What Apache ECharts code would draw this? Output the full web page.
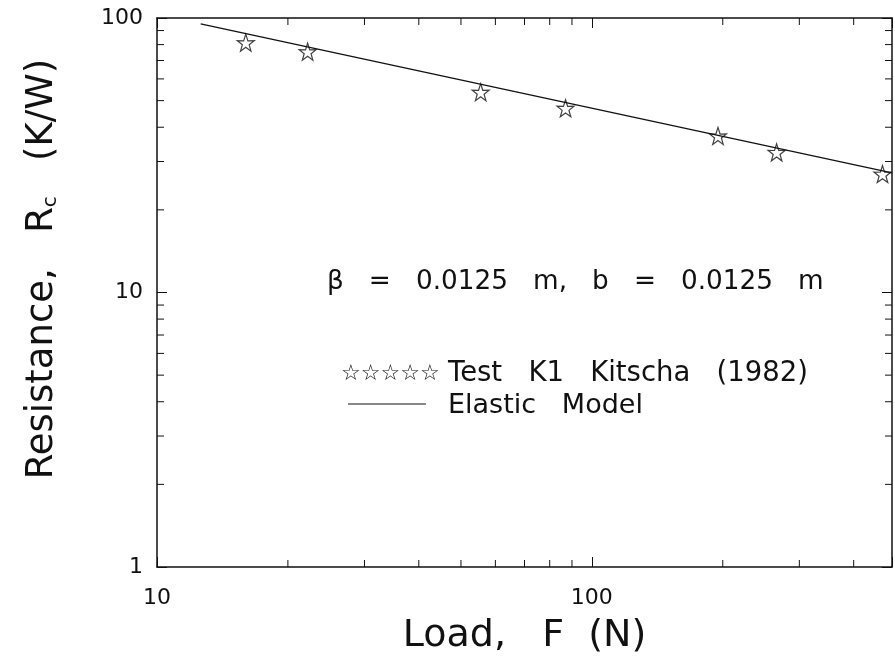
<!DOCTYPE html>
<html>
<head>
<meta charset="utf-8">
<script src="https://cdn.jsdelivr.net/npm/echarts@6/dist/echarts.min.js"></script>
<style>
	html, body { margin: 0; padding: 0; background: #fff; }
	#chart { width: 895px; height: 662px; }
</style>
</head>
<body>
<div id="chart"></div>
<script>
	'use strict'
	/*----data----*/
	var testLoad = [16.0, 22.2, 55.5, 87.0, 195, 266, 466];
	var testResistance = [81.3, 75.4, 53.7, 46.9, 37.2, 32.4, 27.0];
	var modelLoad = [12.6, 490];
	var modelResistance = [95.1, 27.3];
	var xMinorTicks = [20, 30, 40, 50, 60, 70, 80, 90, 200, 300, 400];
	var yMinorTicks = [2, 3, 4, 5, 6, 7, 8, 9, 20, 30, 40, 50, 60, 70, 80, 90];
	var xMajorLabels = [10, 100];
	var yMajorLabels = [1, 10, 100];

	var font = '"DejaVu Sans", sans-serif';
	var ink = '#111';
	var starPath = 'path://M50,0 L61.8,35.4 L97.6,34.5 L69.1,56.5 L79.4,90.5 L50,70 L20.6,90.5 L30.9,56.5 L2.4,34.5 L38.2,35.4 Z';

	function zip(a, b) {
		return a.map(function(v, i) { return [v, b[i]]; });
	}

	function majorOnly(list) {
		return function(value) {
			for (var i = 0; i < list.length; i++) {
				if (Math.abs(value - list[i]) < 1e-6 * list[i]) return String(list[i]);
			}
			return '';
		};
	}

	function xMinor(params, api) {
		var x = api.coord([api.value(0), 1])[0];
		var cs = params.coordSys;
		var st = { stroke: ink, lineWidth: 1 };
		return {
			type: 'group',
			children: [
				{ type: 'line', shape: { x1: x, y1: cs.y + cs.height, x2: x, y2: cs.y + cs.height - 7 }, style: st },
				{ type: 'line', shape: { x1: x, y1: cs.y, x2: x, y2: cs.y + 7 }, style: st }
			]
		};
	}

	function yMinor(params, api) {
		var y = api.coord([10, api.value(1)])[1];
		var cs = params.coordSys;
		var st = { stroke: ink, lineWidth: 1 };
		return {
			type: 'group',
			children: [
				{ type: 'line', shape: { x1: cs.x, y1: y, x2: cs.x + 7, y2: y }, style: st },
				{ type: 'line', shape: { x1: cs.x + cs.width, y1: y, x2: cs.x + cs.width - 7, y2: y }, style: st }
			]
		};
	}

	var axisLine = { show: true, lineStyle: { color: ink, width: 1.5 } };
	var axisTick = { show: true, inside: true, length: 10, lineStyle: { color: ink, width: 1 } };

	var chart = echarts.init(document.getElementById('chart'));
	var option = {
		animation: false,
		backgroundColor: '#fff',
		grid: {
			top: 18,
			right: 3,
			bottom: 95,
			left: 157
		},
		xAxis: [{
			type: 'log',
			logBase: 10,
			min: 10,
			max: 490,
			position: 'bottom',
			name: 'Load,   F  (N)',
			nameLocation: 'middle',
			nameGap: 50,
			nameTextStyle: { fontFamily: font, fontSize: 38, color: ink },
			axisLine: axisLine,
			axisTick: axisTick,
			splitLine: { show: false },
			axisLabel: {
				margin: 20,
				fontFamily: font,
				fontSize: 22,
				color: ink,
				formatter: majorOnly(xMajorLabels)
			}
		}, {
			type: 'log',
			logBase: 10,
			min: 10,
			max: 490,
			position: 'top',
			axisLine: axisLine,
			axisTick: axisTick,
			splitLine: { show: false },
			axisLabel: { show: false }
		}],
		yAxis: [{
			type: 'log',
			logBase: 10,
			min: 1,
			max: 100,
			position: 'left',
			axisLine: axisLine,
			axisTick: axisTick,
			splitLine: { show: false },
			axisLabel: {
				margin: 14,
				fontFamily: font,
				fontSize: 22,
				color: ink,
				formatter: majorOnly(yMajorLabels)
			}
		}, {
			type: 'log',
			logBase: 10,
			min: 1,
			max: 100,
			position: 'right',
			axisLine: axisLine,
			axisTick: axisTick,
			splitLine: { show: false },
			axisLabel: { show: false }
		}],
		graphic: [{
			type: 'text',
			x: 42,
			y: 269,
			rotation: Math.PI / 2,
			style: {
				text: 'Resistance,   R{sub|c}   (K/W)',
				font: '37px ' + font,
				fill: ink,
				align: 'center',
				verticalAlign: 'middle',
				rich: {
					sub: { fontSize: 20, fontFamily: font, fill: ink, verticalAlign: 'bottom', padding: [14, 0, 0, 0] }
				}
			}
		}, {
			type: 'text',
			x: 327,
			y: 282,
			style: {
				text: '\u03b2   =   0.0125   m,   b   =   0.0125   m',
				font: '26.3px ' + font,
				fill: ink,
				verticalAlign: 'middle'
			}
		}, {
			type: 'text',
			x: 341,
			y: 374,
			style: {
				text: '\u2606\u2606\u2606\u2606\u2606',
				font: '22px ' + font,
				fill: ink,
				verticalAlign: 'middle'
			}
		}, {
			type: 'text',
			x: 448,
			y: 374,
			style: {
				text: 'Test   K1   Kitscha   (1982)',
				font: '27.5px ' + font,
				fill: ink,
				verticalAlign: 'middle'
			}
		}, {
			type: 'line',
			shape: { x1: 348, y1: 404, x2: 426, y2: 404 },
			style: { stroke: ink, lineWidth: 1 }
		}, {
			type: 'text',
			x: 448,
			y: 406,
			style: {
				text: 'Elastic   Model',
				font: '27px ' + font,
				fill: ink,
				verticalAlign: 'middle'
			}
		}],
		series: [{
			name: 'Elastic Model',
			type: 'line',
			data: zip(modelLoad, modelResistance),
			showSymbol: false,
			lineStyle: { color: ink, width: 1.3 }
		}, {
			name: 'Test K1 Kitscha (1982)',
			type: 'scatter',
			data: zip(testLoad, testResistance),
			symbol: starPath,
			symbolSize: 17,
			itemStyle: { color: 'rgba(0,0,0,0)', borderColor: ink, borderWidth: 1.2 }
		}, {
			type: 'custom',
			renderItem: xMinor,
			data: xMinorTicks.map(function(v) { return [v, 1]; }),
			clip: false,
			silent: true
		}, {
			type: 'custom',
			renderItem: yMinor,
			data: yMinorTicks.map(function(v) { return [10, v]; }),
			clip: false,
			silent: true
		}]
	};
	chart.setOption(option);
</script>
</body>
</html>
